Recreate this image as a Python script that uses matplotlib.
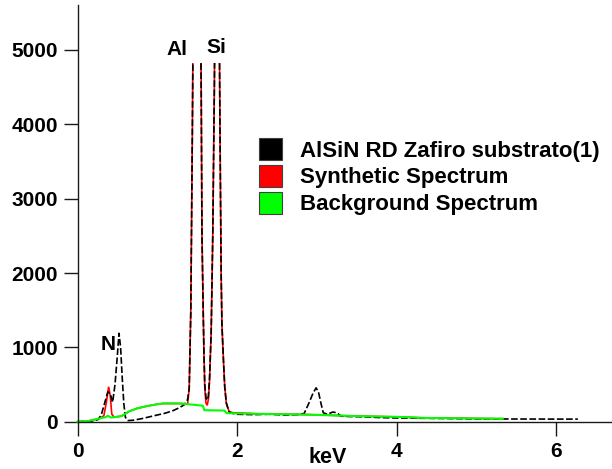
import matplotlib
matplotlib.use("Agg")
import matplotlib.pyplot as plt
from matplotlib.patches import Rectangle

# ---------------- data ----------------
energy_meas = [0.0, 0.1, 0.2, 0.26, 0.30, 0.34, 0.38, 0.41, 0.44, 0.47, 0.50, 0.52, 0.54, 0.56,
               0.58, 0.60, 0.63, 0.70, 0.80, 0.90, 1.00, 1.10, 1.20, 1.28, 1.34, 1.38, 1.40, 1.42,
               1.44, 1.46, 1.49, 1.53, 1.55, 1.56, 1.575, 1.585, 1.595, 1.61, 1.625, 1.64, 1.655,
               1.675, 1.695, 1.715, 1.74, 1.76, 1.785, 1.80, 1.81, 1.83, 1.845, 1.865, 1.90, 1.95,
               2.0, 2.2, 2.4, 2.6, 2.75, 2.84, 2.90, 2.95, 2.99, 3.02, 3.05, 3.08, 3.13, 3.20,
               3.25, 3.30, 3.40, 3.60, 3.80, 4.00, 4.40, 5.00, 5.50, 6.00, 6.27]
counts_meas = [0, 5, 10, 30, 100, 250, 400, 380, 260, 500, 900, 1190, 1000, 600,
               250, 60, 15, 20, 40, 65, 90, 115, 150, 190, 230, 300, 450, 1500,
               4000, 7000, 9000, 7000, 4500, 2500, 1500, 900, 500, 320, 290, 340, 600,
               1200, 2500, 4500, 8000, 8000, 4000, 2000, 1300, 800, 470, 250, 130, 110,
               100, 95, 100, 90, 95, 110, 250, 380, 455, 400, 250, 120, 100, 130,
               120, 75, 70, 65, 55, 50, 45, 38, 36, 35, 35]

energy_synth = [0.0, 0.12, 0.28, 0.33, 0.36, 0.39, 0.41, 0.43, 0.46, 0.55, 0.65, 0.75, 0.87,
                1.0, 1.07, 1.28, 1.38, 1.40, 1.42, 1.44, 1.46, 1.49, 1.53, 1.55, 1.56, 1.575,
                1.585, 1.595, 1.61, 1.625, 1.64, 1.655, 1.675, 1.695, 1.715, 1.74, 1.76, 1.785,
                1.80, 1.81, 1.83, 1.845, 1.865, 1.90, 1.95, 2.28, 2.91, 3.5, 4.0, 4.37, 5.33]
counts_synth = [0, 5, 45, 80, 250, 470, 350, 100, 60, 75, 140, 180, 210,
                235, 245, 245, 240, 450, 1500, 4000, 7000, 9000, 7000, 4500, 2500, 1500,
                900, 450, 250, 220, 300, 550, 1200, 2500, 4500, 8000, 8000, 4000,
                2000, 1300, 800, 470, 250, 135, 120, 105, 95, 75, 65, 50, 40]

energy_bg = [0.0, 0.12, 0.28, 0.35, 0.38, 0.42, 0.55, 0.65, 0.75, 0.87, 1.0, 1.07, 1.28,
             1.44, 1.57, 1.59, 1.84, 1.87, 2.28, 2.91, 3.5, 4.0, 4.37, 5.33]
counts_bg = [0, 5, 45, 60, 80, 55, 75, 140, 180, 210, 235, 245, 245,
             230, 215, 155, 150, 115, 105, 95, 75, 65, 50, 40]

x_ticks = [0, 2, 4, 6]
y_ticks = [0, 1000, 2000, 3000, 4000, 5000]
legend_labels = ["AlSiN RD Zafiro substrato(1)", "Synthetic Spectrum", "Background Spectrum"]
peak_labels = ["N", "Al", "Si"]
peak_label_pos = [(0.38, 1045), (1.247, 5000), (1.742, 5035)]

# ---------------- figure ----------------
W, H = 612, 469
fig = plt.figure(figsize=(W / 100, H / 100), dpi=100)
plt.rcParams['font.family'] = ['Liberation Sans', 'DejaVu Sans']

x0_px, x1_px = 77.5, 612
ytop_px, ybot_px = 5, 421.7
ax = fig.add_axes([x0_px / W, (H - ybot_px) / H, (x1_px - x0_px) / W, (ybot_px - ytop_px) / H])
ax.set_xlim(0, (x1_px - x0_px) / 79.8)
ax.set_ylim(0, (ybot_px - ytop_px) / 74.34 * 1000)

clip = Rectangle((-1, -500), 20, 4820 + 500, transform=ax.transData)

l_red, = ax.plot(energy_synth, counts_synth, color='#ff0000', lw=1.2, solid_joinstyle='miter')
l_blk, = ax.plot(energy_meas, counts_meas, color='black', lw=1.2, linestyle=(0, (4, 1.5)))
l_grn, = ax.plot(energy_bg, counts_bg, color='#00ff00', lw=1.5)
for ln in (l_red, l_blk, l_grn):
    ln.set_clip_path(clip)

for s in ('top', 'right'):
    ax.spines[s].set_visible(False)
for s in ('left', 'bottom'):
    ax.spines[s].set_color('#1a1a1a')
    ax.spines[s].set_linewidth(1.0)

ax.set_xticks(x_ticks)
ax.set_xticklabels([str(v) for v in x_ticks])
ax.set_yticks(y_ticks)
ax.set_yticklabels([str(v) for v in y_ticks])
ax.tick_params(axis='both', direction='out', length=10, width=1.0, color='#1a1a1a',
               labelsize=15)
ax.tick_params(axis='y', pad=4)
ax.tick_params(axis='x', pad=4.5)
for lab in ax.get_xticklabels() + ax.get_yticklabels():
    lab.set_fontweight('bold')

fig.text(327.5 / W, 1 - 457 / H, 'keV', ha='center', va='center', fontsize=15.5, fontweight='bold')

for lab, (px, py) in zip(peak_labels, peak_label_pos):
    ax.text(px, py, lab, ha='center', va='center', fontsize=15, fontweight='bold')

# legend (drawn manually in pixel layout)
sw_colors = ['black', '#ff0000', '#00ff00']
sw_tops = [138.3, 165.0, 191.7]
baselines = [156.5, 183.0, 210.0]
for c, t, b, lab in zip(sw_colors, sw_tops, baselines, legend_labels):
    fig.patches.append(Rectangle((259 / W, 1 - (t + 22) / H), 23 / W, 22 / H,
                                 transform=fig.transFigure, facecolor=c,
                                 edgecolor='#404040', lw=0.8))
    fig.text(300 / W, 1 - b / H, lab, ha='left', va='baseline', fontsize=16, fontweight='bold')

fig.savefig('out.png', dpi=100)
